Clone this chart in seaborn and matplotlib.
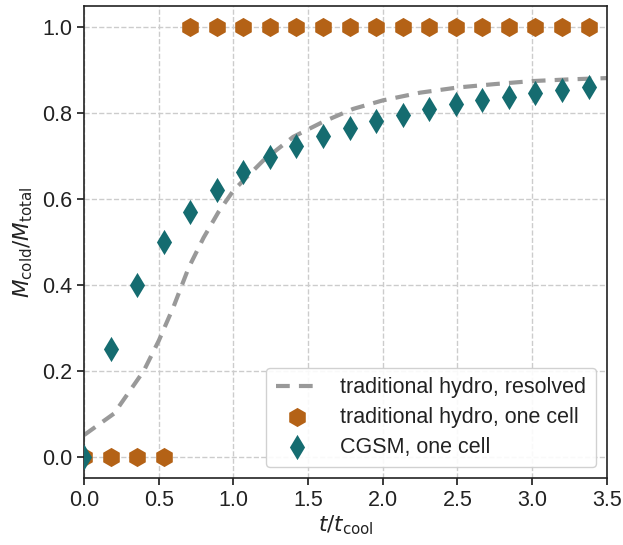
import numpy as np
import pandas as pd
import matplotlib
matplotlib.use("Agg")
import matplotlib.pyplot as plt
import seaborn as sns

# Resolved traditional hydro curve
line_t = [0, 0.1, 0.2, 0.3, 0.4, 0.5, 0.6, 0.7, 0.8, 0.9, 1.0, 1.2, 1.4, 1.6,
          1.8, 2.0, 2.25, 2.5, 2.75, 3.0, 3.25, 3.5]
line_m = [0.05, 0.075, 0.10, 0.15, 0.20, 0.27, 0.35, 0.44, 0.51, 0.57, 0.62,
          0.69, 0.745, 0.78, 0.81, 0.83, 0.848, 0.86, 0.868, 0.875, 0.879, 0.882]

# One-cell samples
cell_t = [0.0, 0.178, 0.356, 0.533, 0.711, 0.889, 1.067, 1.244, 1.422, 1.6,
          1.778, 1.956, 2.133, 2.311, 2.489, 2.667, 2.844, 3.022, 3.2, 3.378]
trad_m = [0, 0, 0, 0, 1, 1, 1, 1, 1, 1, 1, 1, 1, 1, 1, 1, 1, 1, 1, 1]
cgsm_m = [0.0, 0.25, 0.40, 0.50, 0.569, 0.622, 0.663, 0.698, 0.724, 0.748,
          0.766, 0.783, 0.797, 0.81, 0.822, 0.831, 0.839, 0.848, 0.855, 0.862]

sns.set_theme(style="ticks", rc={
    "axes.grid": True,
    "grid.linestyle": "--",
    "grid.color": "#cccccc",
    "grid.linewidth": 1.0,
    "axes.edgecolor": "#222222",
    "xtick.color": "#222222",
    "ytick.color": "#222222",
    "axes.labelcolor": "#222222",
    "text.color": "#222222",
})
plt.rcParams["font.family"] = ["Liberation Sans", "DejaVu Sans"]
plt.rcParams["mathtext.fontset"] = "dejavusans"

FS = 15.5

fig = plt.figure(figsize=(6.23, 5.45), dpi=100)
ax = fig.add_axes([0.135, 0.123, 0.839, 0.866])

df_line = pd.DataFrame({"t": line_t, "m": line_m})
df_cell = pd.DataFrame({"t": cell_t, "trad": trad_m, "cgsm": cgsm_m})

sns.lineplot(data=df_line, x="t", y="m", ax=ax, color="#999999", lw=3,
             linestyle=(0, (3.3, 2.2)), label="traditional hydro, resolved", zorder=2)
sns.scatterplot(data=df_cell, x="t", y="trad", ax=ax, marker="h", s=190,
                color="#B46216", linewidth=0, label="traditional hydro, one cell", zorder=3)
sns.scatterplot(data=df_cell, x="t", y="cgsm", ax=ax, marker="d", s=165,
                color="#156C70", linewidth=0, label="CGSM, one cell", zorder=4)

ax.set_xlim(0, 3.5)
ax.set_ylim(-0.05, 1.05)
ax.set_xticks(np.arange(0, 3.51, 0.5))
ax.set_yticks(np.arange(0, 1.01, 0.2))
ax.tick_params(labelsize=FS, length=5)
ax.set_xlabel(r"$t/t_{\rm cool}$", fontsize=FS, labelpad=2)
ax.set_ylabel(r"$M_{\rm cold}/M_{\rm total}$", fontsize=FS, labelpad=5)
for sp in ax.spines.values():
    sp.set_linewidth(1.2)

leg = ax.legend(loc="lower right", fontsize=FS, frameon=True, framealpha=0.9,
                borderpad=0.45, handlelength=2.0, handletextpad=1.0,
                labelspacing=0.4)
leg.get_frame().set_edgecolor("#cccccc")

fig.savefig("out.png", dpi=100)
